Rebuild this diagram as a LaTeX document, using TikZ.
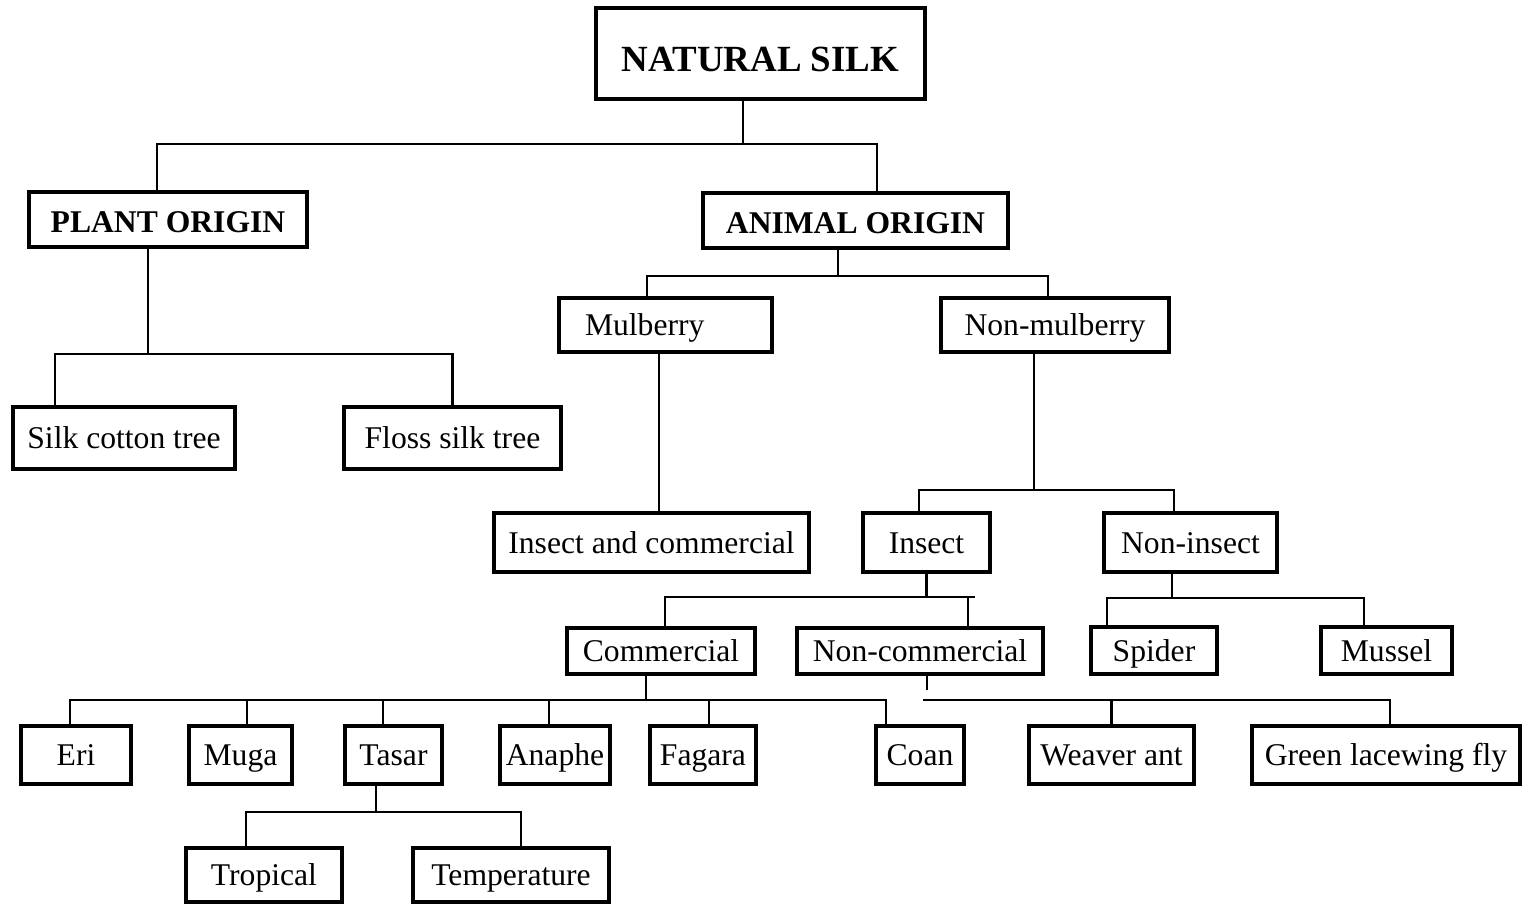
\documentclass[tikz,border=0pt]{standalone}
\usepackage{fontspec}
\setmainfont{Liberation Serif}
\tikzset{
    box/.style={rectangle,draw,line width=1.9pt,outer sep=0pt,inner sep=2pt,text height=14pt,text depth=1.5pt,font=\fontsize{18}{20}\selectfont},
    head/.style={box,text height=14.8pt,text depth=0pt,font=\fontsize{18}{20}\selectfont\bfseries},
    root/.style={box,text height=21pt,text depth=0pt,font=\fontsize{21}{24}\selectfont\bfseries},
    bi/.style={-,line width=1.6pt}
}

\begin{document}
\begin{tikzpicture}[x=0.02cm,y=-0.02cm]
    \useasboundingbox (0,0) rectangle (1529,904);

    % top levels
    \node[root] (silk) [minimum width=6.58cm,minimum height=1.82cm] at (760.5,53.5) {NATURAL SILK};
    \node[head] (plant) [minimum width=5.56cm,minimum height=1.1cm] at (168,219.5) {PLANT ORIGIN};
    \node[head] (animal) [minimum width=6.1cm,minimum height=1.1cm] at (855.5,220.5) {ANIMAL ORIGIN};

    \node[box] (silkcotton) [minimum width=4.44cm,minimum height=1.24cm] at (124,438) {Silk cotton tree};
    \node[box] (floss) [minimum width=4.34cm,minimum height=1.24cm] at (452.5,438) {Floss silk tree};

    \node[box] (mulberry) [text width=3.22cm,inner xsep=0.52cm,align=left,minimum height=1.08cm] at (665.5,325) {Mulberry};
    \node[box] (nonmulberry) [minimum width=4.56cm,minimum height=1.08cm] at (1055,325) {Non-mulberry};

    \node[box] (inscomm) [minimum width=6.3cm,minimum height=1.18cm] at (651.5,542.5) {Insect and commercial};
    \node[box] (insect) [minimum width=2.54cm,minimum height=1.18cm] at (926.5,542.5) {Insect};
    \node[box] (noninsect) [minimum width=3.46cm,minimum height=1.18cm] at (1190.5,542.5) {Non-insect};

    \node[box] (commercial) [minimum width=3.76cm,minimum height=0.92cm] at (661,651) {Commercial};
    \node[box] (noncommercial) [minimum width=4.92cm,minimum height=0.92cm] at (920,651) {Non-commercial};
    \node[box] (spider) [minimum width=2.52cm,minimum height=0.94cm] at (1154,650.5) {Spider};
    \node[box] (mussel) [minimum width=2.62cm,minimum height=0.94cm] at (1386.5,650.5) {Mussel};

    % bottom row
    \node[box] (eri) [minimum width=2.2cm,minimum height=1.16cm] at (76,755) {Eri};
    \node[box] (muga) [minimum width=2.06cm,minimum height=1.16cm] at (240.5,755) {Muga};
    \node[box] (tasar) [minimum width=1.94cm,minimum height=1.16cm] at (393.5,755) {Tasar};
    \node[box] (anaphe) [minimum width=2.2cm,minimum height=1.16cm] at (555,755) {Anaphe};
    \node[box] (fagara) [minimum width=2.12cm,minimum height=1.16cm] at (703,755) {Fagara};
    \node[box] (coan) [minimum width=1.76cm,minimum height=1.16cm] at (920,755) {Coan};
    \node[box] (weaver) [minimum width=3.3cm,minimum height=1.16cm] at (1111.5,755) {Weaver ant};
    \node[box] (green) [minimum width=5.36cm,minimum height=1.16cm] at (1386,755) {Green lacewing fly};

    \node[box] (tropical) [minimum width=3.12cm,minimum height=1.08cm] at (264,875) {Tropical};
    \node[box] (temperature) [minimum width=3.92cm,minimum height=1.08cm] at (511,875) {Temperature};

    % connectors
    \draw[bi] ([xshift=-0.35cm]silk.south) -- ++(0,-0.9cm);
    \draw[bi] ([xshift=-0.22cm]plant.north) -- ++(0,0.96cm) -| ([xshift=0.43cm]animal.north);

    \draw[bi] ([xshift=-0.4cm]plant.south) -- ++(0,-2.14cm);
    \draw[bi] ([xshift=-1.38cm]silkcotton.north) -- ++(0,1.06cm) -| (floss.north);

    \draw[bi] ([xshift=-0.35cm]animal.south) -- ++(0,-0.56cm);
    \draw[bi] ([xshift=-0.37cm]mulberry.north) -- ++(0,0.44cm) -| ([xshift=-0.14cm]nonmulberry.north);

    \draw[bi] ([xshift=-0.13cm]mulberry.south) -- ++(0,-3.22cm);

    \draw[bi] ([xshift=-0.42cm]nonmulberry.south) -- ++(0,-2.76cm);
    \draw[bi] ([xshift=-0.15cm]insect.north) -- ++(0,0.46cm) -| ([xshift=-0.33cm]noninsect.north);

    \draw[bi] (insect.south) -- ++(0,-0.5cm);
    \draw[bi] ([xshift=0.08cm]commercial.north) -- ++(0,0.62cm) -- ++(6.2cm,0);
    \draw[bi] ([xshift=0.96cm]noncommercial.north) -- ++(0,0.62cm);

    \draw[bi] ([xshift=-0.37cm]noninsect.south) -- ++(0,-0.52cm);
    \draw[bi] ([xshift=-0.94cm]spider.north) -- ++(0,0.58cm) -| ([xshift=-0.45cm]mussel.north);

    \draw[bi] ([xshift=-0.3cm]commercial.south) -- ++(0,-0.52cm);
    \draw[bi] ([xshift=-0.12cm]eri.north) -- ++(0,0.52cm) -| ([xshift=-0.68cm]coan.north);
    \foreach \n/\s in {muga/0.13,tasar/-0.21,anaphe/-0.12,fagara/0.12}
        \draw[bi] ([xshift=\s cm]\n.north) -- ++(0,0.52cm);

    \draw[bi] ([xshift=0.14cm]noncommercial.south) -- ++(0,-0.32cm);
    \draw[bi] ([xshift=0.08cm]green.north) -- ++(0,0.52cm) -- ++(-9.34cm,0);
    \draw[bi] (weaver.north) -- ++(0,0.52cm);

    \draw[bi] ([xshift=-0.35cm]tasar.south) -- ++(0,-0.56cm);
    \draw[bi] ([xshift=-0.36cm]tropical.north) -- ++(0,0.72cm) -| ([xshift=0.2cm]temperature.north);
\end{tikzpicture}
\end{document}
